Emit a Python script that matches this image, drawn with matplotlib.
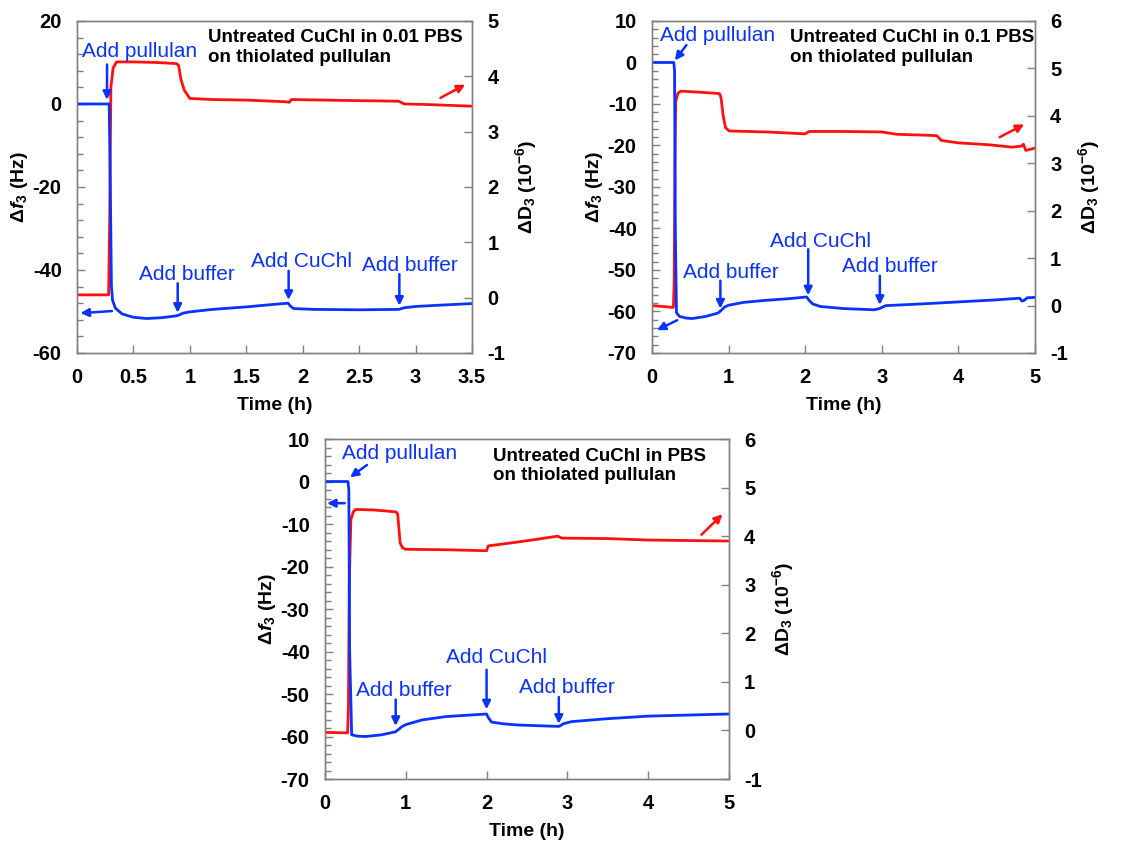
import matplotlib
matplotlib.use("Agg")
import matplotlib.pyplot as plt
from matplotlib.ticker import MultipleLocator

plt.rcParams["font.family"] = ["Liberation Sans", "DejaVu Sans"]
plt.rcParams["font.weight"] = "bold"
plt.rcParams["axes.unicode_minus"] = False
plt.rcParams["mathtext.fontset"] = "custom"
plt.rcParams["mathtext.rm"] = "Liberation Sans:bold"
plt.rcParams["mathtext.it"] = "Liberation Sans:italic:bold"
plt.rcParams["mathtext.bf"] = "Liberation Sans:bold"

BLUE = "#0a32ff"
RED = "#ff1010"

# ---- panel 1: 0.01 PBS ----
t_f1 = [0, 0.285, 0.295, 0.305, 0.315, 0.34, 0.40, 0.50, 0.62, 0.75, 0.87, 0.90, 0.94, 1.0, 1.2,
        1.5, 1.7, 1.87, 1.89, 1.92, 2.1, 2.5, 2.85, 2.9, 3.0, 3.2, 3.5]
f1 = [0, 0, -20, -44, -47.3, -49.2, -50.6, -51.4, -51.7, -51.5, -51.1, -50.9, -50.4, -50.1, -49.5,
      -48.9, -48.4, -48.0, -48.7, -49.3, -49.5, -49.6, -49.5, -49.1, -48.8, -48.5, -48.1]
t_d1 = [0, 0.28, 0.29, 0.30, 0.32, 0.35, 0.5, 0.7, 0.88, 0.90, 0.92, 0.95, 1.0, 1.2, 1.5, 1.85,
        1.88, 1.90, 2.2, 2.5, 2.85, 2.9, 3.1, 3.5]
d1 = [0.05, 0.05, 1.5, 3.8, 4.15, 4.26, 4.26, 4.25, 4.23, 4.2, 3.95, 3.75, 3.6, 3.58, 3.57, 3.54,
      3.53, 3.58, 3.57, 3.56, 3.55, 3.50, 3.49, 3.46]

# ---- panel 2: 0.1 PBS ----
t_f2 = [0, 0.285, 0.295, 0.305, 0.32, 0.36, 0.45, 0.53, 0.7, 0.86, 0.90, 0.95, 1.0, 1.2, 1.5,
        1.8, 2.02, 2.05, 2.1, 2.2, 2.5, 2.9, 2.97, 3.05, 3.5, 4.0, 4.5, 4.8, 4.83, 4.86, 4.9, 5.0]
f2 = [0, 0, -2, -40, -60.3, -61.2, -61.6, -61.7, -61.2, -60.4, -59.8, -58.9, -58.5, -57.8, -57.3,
      -56.9, -56.5, -57.3, -58.2, -58.8, -59.3, -59.6, -59.3, -58.6, -58.2, -57.7, -57.2, -56.8,
      -57.5, -57.3, -56.7, -56.6]
t_d2 = [0, 0.28, 0.29, 0.30, 0.31, 0.34, 0.38, 0.6, 0.88, 0.90, 0.93, 0.96, 1.01, 1.5, 2.0, 2.05,
        2.5, 3.0, 3.2, 3.6, 3.72, 3.78, 4.0, 4.4, 4.7, 4.82, 4.85, 4.88, 5.0]
d2 = [0.0, -0.04, 0.5, 3.0, 4.3, 4.48, 4.52, 4.5, 4.47, 4.4, 4.0, 3.75, 3.68, 3.66, 3.62, 3.67,
      3.67, 3.66, 3.61, 3.59, 3.58, 3.48, 3.43, 3.39, 3.34, 3.36, 3.40, 3.27, 3.32]

# ---- panel 3: PBS ----
t_f3 = [0, 0.285, 0.295, 0.305, 0.33, 0.4, 0.5, 0.7, 0.87, 0.90, 0.95, 1.0, 1.2, 1.5, 2.0, 2.02,
        2.06, 2.2, 2.4, 2.85, 2.9, 2.95, 3.05, 3.5, 4.0, 5.0]
f3 = [0, 0, -2, -40, -59.6, -59.9, -60.0, -59.6, -58.9, -58.5, -57.7, -57.2, -56.1, -55.3, -54.7,
      -55.5, -56.6, -57.0, -57.3, -57.6, -57.6, -57.0, -56.5, -55.8, -55.2, -54.7]
t_d3 = [0, 0.28, 0.29, 0.30, 0.32, 0.35, 0.38, 0.6, 0.88, 0.90, 0.93, 0.96, 1.0, 1.5, 2.0, 2.02,
        2.3, 2.6, 2.8, 2.88, 2.93, 3.5, 4.0, 5.0]
d3 = [-0.04, -0.05, 0.5, 3.0, 4.34, 4.5, 4.55, 4.54, 4.5, 4.45, 3.86, 3.76, 3.73, 3.72, 3.70, 3.8,
      3.86, 3.93, 3.98, 4.0, 3.96, 3.95, 3.92, 3.9]

titles = ["Untreated CuChl in 0.01 PBS\non thiolated pullulan",
          "Untreated CuChl in 0.1 PBS\non thiolated pullulan",
          "Untreated CuChl in PBS\non thiolated pullulan"]
event_labels = ["Add pullulan", "Add buffer", "Add CuChl", "Add buffer"]

fig = plt.figure(figsize=(11.46, 8.42), dpi=100)
rects = [[0.0672, 0.5808, 0.3447, 0.3943],
         [0.5689, 0.5808, 0.3342, 0.3943],
         [0.2836, 0.0748, 0.3525, 0.4038]]

cfg = [
    dict(xlim=(0, 3.5), xstep=0.5, ylim=(-60, 20), ystep=20, yminor=4, rlim=(-1, 5),
         title_x=0.331,
         # (text x, text y, arrow tail, arrow head) in left-axis data coords
         events=[(0.044, 11.3, (0.266, 9.5), (0.266, 1.0)),
                 (0.546, -42.3, (0.892, -43.2), (0.892, -50.3)),
                 (1.54, -39.3, (1.875, -40.2), (1.875, -47.2)),
                 (2.525, -40.2, (2.856, -41.0), (2.856, -48.6))],
         left_arrow=((0.31, -49.9), (0.03, -50.4)),
         right_arrow=((3.22, 3.61), (3.44, 3.85))),
    dict(xlim=(0, 5), xstep=1, ylim=(-70, 10), ystep=10, yminor=2, rlim=(-1, 6),
         title_x=0.361,
         events=[(0.11, 5.2, (0.45, 4.2), (0.30, 0.5)),
                 (0.405, -51.9, (0.893, -52.6), (0.893, -59.3)),
                 (1.546, -44.5, (2.04, -45.0), (2.04, -56.1)),
                 (2.487, -50.5, (2.975, -51.4), (2.975, -58.4))],
         left_arrow=((0.33, -62.1), (0.065, -64.5)),
         right_arrow=((4.54, 3.55), (4.86, 3.82))),
    dict(xlim=(0, 5), xstep=1, ylim=(-70, 10), ystep=10, yminor=2, rlim=(-1, 6),
         title_x=0.415,
         events=[(0.215, 5.2, (0.52, 3.9), (0.31, 1.0)),
                 (0.388, -50.4, (0.875, -51.3), (0.875, -57.5)),
                 (1.503, -42.6, (2.0, -44.3), (2.0, -53.6)),
                 (2.403, -49.8, (2.894, -50.7), (2.894, -57.0))],
         left_arrow=((0.244, -5.1), (0.025, -5.1)),
         right_arrow=((4.66, 4.03), (4.92, 4.45))),
]

series = [(t_f1, f1, t_d1, d1), (t_f2, f2, t_d2, d2), (t_f3, f3, t_d3, d3)]

for i in range(3):
    c = cfg[i]
    tf, fv, td, dv = series[i]
    ax = fig.add_axes(rects[i])
    ax2 = ax.twinx()
    ax.set_zorder(ax2.get_zorder() + 1)
    ax.patch.set_visible(False)

    ax2.plot(td, dv, color=RED, lw=2.0)
    ax.plot(tf, fv, color=BLUE, lw=2.0)

    ax.set_xlim(*c["xlim"])
    ax.set_ylim(*c["ylim"])
    ax2.set_ylim(*c["rlim"])
    ax.xaxis.set_major_locator(MultipleLocator(c["xstep"]))
    ax.yaxis.set_major_locator(MultipleLocator(c["ystep"]))
    ax.yaxis.set_minor_locator(MultipleLocator(c["yminor"]))
    ax2.yaxis.set_major_locator(MultipleLocator(1))
    ax.tick_params(axis="both", which="major", direction="in", length=6, width=1,
                   color="#808080", labelsize=14.5, pad=11)
    ax.tick_params(axis="y", which="minor", direction="in", length=4, width=1, color="#808080")
    ax2.tick_params(axis="y", direction="in", length=6, width=1, color="#808080",
                    labelsize=14.5, pad=11)
    for a in (ax, ax2):
        for sp in a.spines.values():
            sp.set_color("#808080")
            sp.set_linewidth(1)
    ax.xaxis.set_major_formatter(plt.FuncFormatter(lambda v, p: f"{v:g}"))

    ax.set_xlabel("Time (h)", fontsize=14, fontweight="bold", labelpad=7)
    ax.set_ylabel(r"Δ$\mathit{f}_3$ (Hz)", fontsize=14, fontweight="bold", labelpad=2)
    ax2.set_ylabel(r"ΔD$_3$ (10$^{-6}$)", fontsize=14, fontweight="bold", labelpad=6)

    ax.text(c["title_x"], 0.975, titles[i], transform=ax.transAxes, ha="left", va="top",
            fontsize=13.5, fontweight="bold", color="black", linespacing=1.2)

    for lab, (tx, ty, tail, head) in zip(event_labels, c["events"]):
        ax.text(tx, ty, lab, color=BLUE, fontsize=15, fontweight="normal",
                ha="left", va="baseline")
        ax.annotate("", xy=head, xytext=tail,
                    arrowprops=dict(arrowstyle="-|>", color=BLUE, lw=1.8, mutation_scale=12,
                                    shrinkA=0, shrinkB=0))
    ax.annotate("", xy=c["left_arrow"][1], xytext=c["left_arrow"][0],
                arrowprops=dict(arrowstyle="-|>", color=BLUE, lw=1.8, mutation_scale=12,
                                shrinkA=0, shrinkB=0))
    ax2.annotate("", xy=c["right_arrow"][1], xytext=c["right_arrow"][0],
                 arrowprops=dict(arrowstyle="-|>", color=RED, lw=1.8, mutation_scale=12,
                                 shrinkA=0, shrinkB=0))

fig.savefig("out.png", dpi=100)
plt.close(fig)
